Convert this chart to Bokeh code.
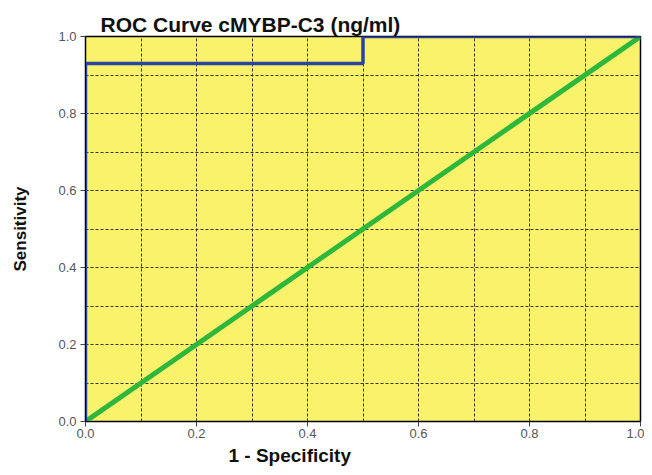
from bokeh.plotting import figure
from bokeh.models import Range1d, FixedTicker, Title
from bokeh.embed import file_html
from bokeh.resources import INLINE

# ROC data
fpr = [0.0, 0.0, 0.5, 0.5, 1.0]
tpr = [0.0, 0.93, 0.93, 1.0, 1.0]
ref_x = [0.0, 1.0]
ref_y = [0.0, 1.0]
major_ticks = [0.0, 0.2, 0.4, 0.6, 0.8, 1.0]
grid_ticks = [0.1, 0.2, 0.3, 0.4, 0.5, 0.6, 0.7, 0.8, 0.9]
tick_labels = {0.0: "0.0", 0.2: "0.2", 0.4: "0.4", 0.6: "0.6", 0.8: "0.8", 1.0: "1.0"}

p = figure(width=644, height=467, output_backend="svg", toolbar_location=None,
           x_range=Range1d(0, 1), y_range=Range1d(0, 1),
           min_border_left=85, min_border_right=4, min_border_top=36, min_border_bottom=45)
p.title = None
t = Title(text="ROC Curve cMYBP-C3 (ng/ml)", align="left", offset=15,
          text_font="Liberation Sans", text_font_size="21px", text_font_style="bold",
          text_color="#111111", standoff=2)
p.add_layout(t, "above")

xl = Title(text="1 - Specificity", align="left", offset=143,
           text_font="Liberation Sans", text_font_size="19px", text_font_style="bold",
           text_color="#111111", standoff=4)
p.add_layout(xl, "below")

p.border_fill_color = "white"
p.background_fill_color = "#f9f26a"
p.outline_line_color = "black"
p.outline_line_width = 1.5

for ax in (p.xaxis[0], p.yaxis[0]):
    ax.ticker = FixedTicker(ticks=major_ticks)
    ax.major_label_overrides = tick_labels
    ax.minor_tick_line_color = None
    ax.major_tick_out = 5
    ax.major_tick_in = 0
    ax.major_tick_line_color = "#444444"
    ax.axis_line_color = "black"
    ax.major_label_text_font = "Liberation Sans"
    ax.major_label_text_font_size = "13px"
    ax.major_label_text_color = "#555555"

p.yaxis.axis_label = "Sensitivity"
p.yaxis.axis_label_text_font = "Liberation Sans Narrow, Liberation Sans"
p.yaxis.axis_label_text_font_style = "bold"
p.yaxis.axis_label_text_font_size = "17px"
p.yaxis.axis_label_text_color = "#111111"
p.xaxis.major_label_standoff = 2
p.yaxis.major_label_standoff = 4
p.yaxis.axis_label_standoff = 25

for g in (p.xgrid[0], p.ygrid[0]):
    g.ticker = FixedTicker(ticks=grid_ticks)
    g.grid_line_color = "#222222"
    g.grid_line_dash = "3 2"
    g.grid_line_width = 1
    g.grid_line_alpha = 0.9

p.line(ref_x, ref_y, line_color="#2db83d", line_width=5)
p.line(fpr, tpr, line_color="#2a44a0", line_width=3.5)

open("out.html", "w").write(file_html(p, INLINE))
